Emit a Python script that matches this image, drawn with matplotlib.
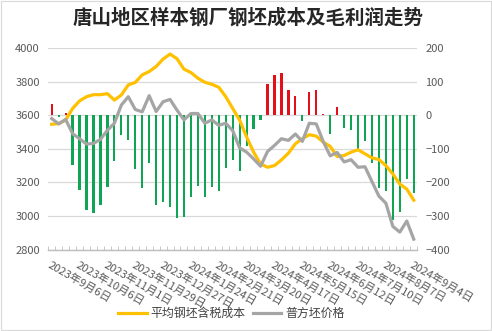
import numpy as np
import matplotlib
matplotlib.use("Agg")
import matplotlib.pyplot as plt
from matplotlib.patches import Rectangle

plt.rcParams['font.family'] = ['Noto Sans CJK SC', 'DejaVu Sans']

# weekly data, Sep 2023 - Sep 2024
cost = [3546, 3550, 3570, 3640, 3685, 3710, 3722, 3722, 3728, 3690,
        3720, 3780, 3795, 3840, 3860, 3890, 3934, 3964, 3936, 3874,
        3854, 3820, 3796, 3784, 3766, 3710, 3640, 3570, 3470, 3380,
        3310, 3290, 3300, 3334, 3374, 3430, 3460, 3484, 3475, 3440,
        3414, 3354, 3360, 3380, 3394, 3370, 3346, 3336, 3300, 3250,
        3190, 3160, 3094]
price = [3580, 3548, 3575, 3490, 3460, 3428, 3432, 3456, 3510, 3552,
         3660, 3710, 3634, 3620, 3716, 3622, 3680, 3694, 3630, 3572,
         3610, 3610, 3552, 3572, 3540, 3552, 3508, 3405, 3380, 3340,
         3296, 3384, 3420, 3460, 3450, 3488, 3444, 3552, 3548, 3443,
         3358, 3378, 3322, 3335, 3290, 3293, 3205, 3118, 3076, 2938,
         2904, 2970, 2862]
profit = [33, -4, 6, -148, -224, -281, -290, -266, -215, -137,
          -59, -74, -160, -217, -143, -266, -257, -272, -307, -302,
          -245, -212, -245, -215, -227, -158, -133, -167, -91, -42,
          -15, 93, 120, 126, 75, 57, -16, 68, 75, 3,
          -56, 24, -38, -45, -105, -77, -141, -218, -225, -312,
          -287, -190, -233]
tick_labels = ["2023年9月6日", "2023年10月6日", "2023年11月1日", "2023年11月29日",
               "2023年12月27日", "2024年1月24日", "2024年2月21日", "2024年3月20日",
               "2024年4月17日", "2024年5月15日", "2024年6月12日", "2024年7月10日",
               "2024年8月7日", "2024年9月4日"]

x = np.arange(len(cost))
profit_arr = np.array(profit)
bar_colors = np.where(profit_arr >= 0, "#E3101A", "#0FA554")

fig = plt.figure(figsize=(4.92, 3.31), dpi=100)
ax = fig.add_axes([0.098, 0.246, 0.750, 0.609])
ax2 = ax.twinx()

# bars on the right axis, kept behind the lines
ax2.bar(x, profit_arr, width=0.32, color=bar_colors, zorder=2)
ax2.set_ylim(-400, 200)
ax2.set_yticks(np.arange(-400, 201, 100))
ax2.grid(axis="y", color="#D9D9D9", linewidth=0.9, zorder=0)
ax2.set_axisbelow(True)

ax.set_zorder(ax2.get_zorder() + 1)
ax.patch.set_visible(False)
ax.plot(x, cost, color="#FFC000", linewidth=2.3, label="平均钢坯含税成本",
        solid_joinstyle="round")
ax.plot(x, price, color="#A5A5A5", linewidth=2.3, label="普方坯价格",
        solid_joinstyle="round")
ax.set_ylim(2800, 4000)
ax.set_yticks(np.arange(2800, 4001, 200))
ax.set_xlim(-0.5, len(cost) - 0.5)

ax.set_xticks(np.arange(0, len(cost), 4))
ax.set_xticklabels(tick_labels, rotation=-30, ha="left", va="top",
                   rotation_mode="anchor")
ax.set_xticks(np.arange(-0.5, len(cost), 1), minor=True)
ax.tick_params(axis="x", which="major", length=0, pad=7, labelsize=8,
               labelcolor="#595959")
ax.tick_params(axis="x", which="minor", length=3, direction="in",
               color="#BFBFBF")
ax.tick_params(axis="y", length=0, labelsize=8, labelcolor="#595959", pad=6)
ax2.tick_params(axis="y", length=0, labelsize=8, labelcolor="#595959", pad=6)

for a in (ax, ax2):
    for side in ("top", "left", "right"):
        a.spines[side].set_visible(False)
    a.spines["bottom"].set_color("#BFBFBF")
    a.spines["bottom"].set_linewidth(0.9)

fig.suptitle("唐山地区样本钢厂钢坯成本及毛利润走势", x=0.505, y=0.975,
             fontsize=14, fontweight="bold", color="#262626")

fig.legend(loc="lower center", bbox_to_anchor=(0.47, 0.0), ncol=2,
           frameon=False, fontsize=8.6, handlelength=2.4, handletextpad=0.3,
           columnspacing=0.6, labelcolor="#404040")

fig.patches.append(Rectangle((0.002, 0.002), 0.996, 0.996, transform=fig.transFigure,
                             fill=False, edgecolor="#D9D9D9", linewidth=0.8))

fig.savefig("out.png", dpi=100)
